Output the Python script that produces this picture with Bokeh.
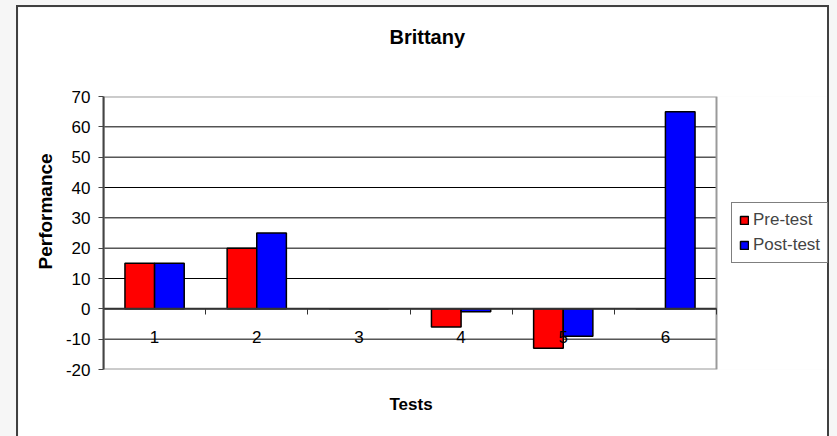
from bokeh.plotting import figure
from bokeh.models import (ColumnDataSource, FixedTicker, Legend, LegendItem,
                          PrintfTickFormatter, Range1d, Title)
from bokeh.layouts import column
from bokeh.transform import dodge
from bokeh.embed import file_html
from bokeh.resources import INLINE

# Test scores for Brittany, before and after the intervention
tests = [1, 2, 3, 4, 5, 6]
pre_test = [15, 20, 0, -6, -13, 0]
post_test = [15, 25, 0, -1, -9, 65]
y_ticks = [-20, -10, 0, 10, 20, 30, 40, 50, 60, 70]

FONT = "Liberation Sans"

# The drawing frame runs on past the plot area so the legend can sit to its
# right; the plot area itself covers categories 0.5 .. 6.5.
PLOT_PX = 613
FRAME_PX = 728
x_lo = 0.5
x_hi = len(tests) + 0.5
x_end = x_lo + len(tests) * FRAME_PX / PLOT_PX
y_lo, y_hi = y_ticks[0], y_ticks[-1]

source = ColumnDataSource(data=dict(test=tests, pre=pre_test, post=post_test))

p = figure(
    width=813, height=432,
    x_range=Range1d(x_lo, x_end), y_range=Range1d(y_lo, y_hi),
    output_backend="svg", toolbar_location=None,
    min_border_left=85, min_border_right=0,
    min_border_top=89, min_border_bottom=69,
    background_fill_color="white", border_fill_color="white",
)
p.outline_line_color = None

# spacer between the title and the plot area
p.add_layout(Title(text=" ", text_font=FONT, text_font_size="20px", standoff=20), "above")

p.title.text = "Brittany"
p.title.align = "left"
p.title.offset = 286
p.title.text_font = FONT
p.title.text_font_size = "20px"
p.title.text_font_style = "bold"
p.title.text_color = "black"

# horizontal gridlines and the grey plot-area border
inner = [t for t in y_ticks if y_lo < t < y_hi]
p.xgrid.visible = False
p.ygrid.visible = False
p.segment(x0=x_lo, x1=x_hi, y0=inner, y1=inner, line_color="black", line_width=1)
p.quad(left=x_lo, right=x_hi, bottom=y_lo, top=y_hi, fill_color=None,
       line_color="#9a9a9a", line_width=2)

bar_w = 0.29
r_pre = p.vbar(x=dodge("test", -bar_w / 2, range=p.x_range), top="pre", bottom=0,
               width=bar_w, source=source, fill_color="#ff0000",
               line_color="black", line_width=1.5)
r_post = p.vbar(x=dodge("test", bar_w / 2, range=p.x_range), top="post", bottom=0,
                width=bar_w, source=source, fill_color="#0000ff",
                line_color="black", line_width=1.5)

# category axis line at zero
p.segment(x0=x_lo, x1=x_hi, y0=0, y1=0, line_color="#333333", line_width=2)

xa = p.xaxis[0]
xa.fixed_location = 0
xa.ticker = FixedTicker(ticks=tests, minor_ticks=[t - 0.5 for t in tests] + [x_hi])
xa.axis_line_color = None
xa.major_tick_line_color = None
xa.minor_tick_line_color = "#333333"
xa.minor_tick_out = 6
xa.minor_tick_in = 0
xa.major_label_standoff = 16
xa.major_label_text_font = FONT
xa.major_label_text_font_size = "17px"
xa.major_label_text_color = "black"

p.add_layout(Title(text="Tests", align="left", offset=286, standoff=46,
                   text_font=FONT, text_font_size="17px", text_font_style="bold",
                   text_color="black"), "below")

ya = p.yaxis[0]
ya.ticker = FixedTicker(ticks=y_ticks)
ya.formatter = PrintfTickFormatter(format="%d")
ya.axis_line_color = "#444444"
ya.axis_line_width = 2
ya.major_tick_line_color = "#444444"
ya.major_tick_out = 5
ya.major_tick_in = 0
ya.minor_tick_line_color = None
ya.major_label_standoff = 8
ya.major_label_text_font = FONT
ya.major_label_text_font_size = "17px"
ya.major_label_text_color = "black"

p.add_layout(Title(text="Performance", align="left", offset=100, standoff=14,
                   text_font=FONT, text_font_size="19px", text_font_style="bold",
                   text_color="black"), "left")

legend = Legend(
    items=[LegendItem(label="Pre-test", renderers=[r_pre]),
           LegendItem(label="Post-test", renderers=[r_post])],
    location=(628, 106),
    glyph_width=10, glyph_height=10,
    label_text_font=FONT, label_text_font_size="17px",
    label_standoff=4, spacing=5, padding=7, margin=0,
    border_line_color="black", border_line_width=1,
)
p.add_layout(legend)

p.styles = {
    "border-left": "2px solid #404040",
    "border-top": "2px solid #404040",
    "border-right": "2px solid #404040",
}

page = column(p, width=837, height=436,
              styles={"background-color": "#f6f6f6", "padding": "5px 0 0 16px",
                      "box-sizing": "border-box", "overflow": "hidden"})

open("out.html", "w").write(file_html(page, INLINE))
